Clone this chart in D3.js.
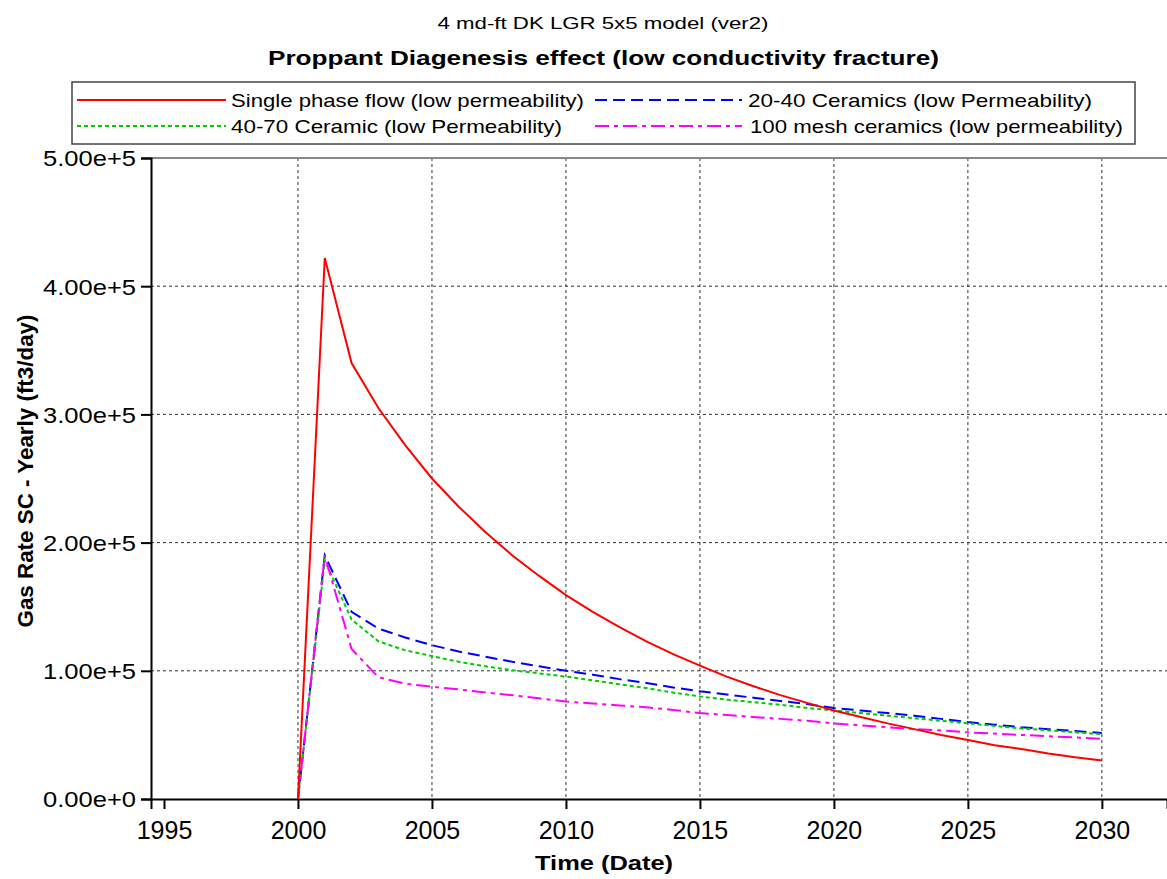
<!DOCTYPE html>
<html>
<head>
<meta charset="utf-8">
<script src="https://cdn.jsdelivr.net/npm/d3@7"></script>
<style>
  html, body { margin: 0; padding: 0; background: #fff; }
  svg { display: block; font-family: "Liberation Sans", Arial, sans-serif; }
</style>
</head>
<body>
<svg id="chart" width="1167" height="879"></svg>
<script>
// ---------------- data ----------------
const years = d3.range(2000, 2031);
const singlePhase = [0, 422000, 340000, 305000, 276000, 250000, 228000, 208000, 190000, 174000,
  159000, 146000, 134000, 123000, 113000, 104000, 95500, 88000, 81000, 75000,
  69000, 64000, 59000, 54500, 50000, 46000, 42000, 39000, 35500, 32500, 30000];
const ceramics2040 = [0, 190000, 146000, 133000, 126000, 120000, 115000, 111000, 107000, 103500,
  100000, 97000, 93500, 90500, 87000, 84000, 81500, 79000, 76500, 74000,
  71000, 69000, 67000, 65000, 62500, 60000, 58000, 56000, 54500, 53000, 51500];
const ceramic4070 = [0, 186000, 140000, 123000, 116000, 111500, 107000, 103500, 100500, 98000,
  95500, 92500, 89500, 86500, 83000, 80000, 77500, 75500, 73500, 71000,
  69000, 67000, 65000, 63000, 61000, 59000, 57000, 55000, 53500, 52000, 50500];
const mesh100 = [0, 190000, 117000, 95000, 90000, 87500, 85500, 83000, 81000, 78500,
  76000, 74500, 73000, 71500, 69500, 67000, 65500, 64000, 62500, 61000,
  59000, 57500, 56000, 54500, 53500, 52000, 51000, 50000, 49000, 48000, 47000];
const seriesNames = ["Single phase flow (low permeability)", "20-40 Ceramics (low Permeability)",
  "40-70 Ceramic (low Permeability)", "100 mesh ceramics (low permeability)"];
const xTicks = [1995, 2000, 2005, 2010, 2015, 2020, 2025, 2030];
const xGrid = [2000, 2005, 2010, 2015, 2020, 2025, 2030];
const yTicks = [0, 100000, 200000, 300000, 400000, 500000];
const yTickLabels = ["0.00e+0", "1.00e+5", "2.00e+5", "3.00e+5", "4.00e+5", "5.00e+5"];
const title1 = "4 md-ft DK LGR 5x5 model (ver2)";
const title2 = "Proppant Diagenesis effect (low conductivity fracture)";
const xLabel = "Time (Date)";
const yLabel = "Gas Rate SC - Yearly (ft3/day)";

// ---------------- layout ----------------
const svg = d3.select("#chart");
const L = 151, R = 1167, T = 158, B = 799;
const x = d3.scaleLinear().domain([1994.515, 2032.43]).range([L, R]);
const y = d3.scaleLinear().domain([0, 500000]).range([B, T]);

const series = [
  {name: seriesNames[0], values: singlePhase, color: "#ff0000", dash: null},
  {name: seriesNames[1], values: ceramics2040, color: "#0000ff", dash: "12,6"},
  {name: seriesNames[2], values: ceramic4070, color: "#00cc00", dash: "4,3"},
  {name: seriesNames[3], values: mesh100, color: "#ff00ff", dash: "14,5,4,5"}
];

// titles
svg.append("text").attr("x", 603).attr("y", 29).attr("text-anchor", "middle")
  .attr("font-size", 17).attr("textLength", 331).attr("lengthAdjust", "spacingAndGlyphs")
  .text(title1);
svg.append("text").attr("x", 603.5).attr("y", 65).attr("text-anchor", "middle")
  .attr("font-size", 21).attr("font-weight", "bold")
  .attr("textLength", 671).attr("lengthAdjust", "spacingAndGlyphs")
  .text(title2);

// grid
const grid = svg.append("g");
grid.selectAll("line.vg").data(xGrid).join("line")
  .attr("x1", d => x(d)).attr("x2", d => x(d)).attr("y1", T).attr("y2", B)
  .attr("stroke", "#333").attr("stroke-width", 1).attr("stroke-dasharray", "3,3");
grid.selectAll("line.hg").data(yTicks.filter(d => d > 0 && d < 500000)).join("line")
  .attr("x1", L).attr("x2", R).attr("y1", d => y(d)).attr("y2", d => y(d))
  .attr("stroke", "#333").attr("stroke-width", 1).attr("stroke-dasharray", "3,3");
// top border
svg.append("line").attr("x1", L).attr("x2", R).attr("y1", y(500000)).attr("y2", y(500000))
  .attr("stroke", "#888").attr("stroke-width", 2);

// axes
const xAxis = d3.axisBottom(x).tickValues(xTicks).tickSize(10).tickPadding(8).tickFormat(d3.format("d"));
const gx = svg.append("g").attr("transform", `translate(0,${B})`).call(xAxis);
gx.select(".domain").attr("stroke", "#000").attr("stroke-width", 2);
gx.selectAll(".tick line").attr("stroke", "#000").attr("stroke-width", 2);
gx.selectAll(".tick text").attr("font-size", 25).attr("fill", "#000")
  .attr("font-family", "Liberation Sans, Arial, sans-serif").attr("dy", 0).attr("y", 40);

const yAxis = d3.axisLeft(y).tickValues(yTicks).tickSize(10).tickPadding(5)
  .tickFormat((d, i) => yTickLabels[i]);
const gy = svg.append("g").attr("transform", `translate(${L},0)`).call(yAxis);
gy.select(".domain").attr("stroke", "#000").attr("stroke-width", 2);
gy.selectAll(".tick line").attr("stroke", "#000").attr("stroke-width", 2);
gy.selectAll(".tick text").attr("font-size", 22).attr("fill", "#000")
  .attr("font-family", "Liberation Sans, Arial, sans-serif")
  .attr("x", -15).attr("dy", "0.36em")
  .attr("textLength", 93).attr("lengthAdjust", "spacingAndGlyphs");

// axis labels
svg.append("text").attr("x", 604).attr("y", 870).attr("text-anchor", "middle")
  .attr("font-size", 20).attr("font-weight", "bold")
  .attr("textLength", 138).attr("lengthAdjust", "spacingAndGlyphs").text(xLabel);
svg.append("text").attr("transform", "translate(33,471) rotate(-90)").attr("text-anchor", "middle")
  .attr("font-size", 22).attr("font-weight", "bold")
  .attr("textLength", 313).attr("lengthAdjust", "spacingAndGlyphs").text(yLabel);

// lines
const line = d3.line().x((d, i) => x(years[i])).y(d => y(d));
const gl = svg.append("g");
[1, 2, 3, 0].forEach(k => {
  const s = series[k];
  gl.append("path").datum(s.values).attr("d", line)
    .attr("fill", "none").attr("stroke", s.color).attr("stroke-width", 2)
    .attr("stroke-dasharray", s.dash);
});

// legend
const lg = svg.append("g");
lg.append("rect").attr("x", 72).attr("y", 82).attr("width", 1063).attr("height", 62)
  .attr("fill", "#fff").attr("stroke", "#444").attr("stroke-width", 1.5);
const legendPos = [
  {lx1: 77, lx2: 226, tx: 231, ty: 100, tl: 353},
  {lx1: 595, lx2: 742, tx: 748, ty: 100, tl: 344},
  {lx1: 77, lx2: 226, tx: 231, ty: 126, tl: 331},
  {lx1: 595, lx2: 742, tx: 750, ty: 126, tl: 373}
];
series.forEach((s, i) => {
  const p = legendPos[i];
  lg.append("line").attr("x1", p.lx1).attr("x2", p.lx2).attr("y1", p.ty).attr("y2", p.ty)
    .attr("stroke", s.color).attr("stroke-width", 2).attr("stroke-dasharray", s.dash);
  lg.append("text").attr("x", p.tx).attr("y", p.ty).attr("dy", "0.35em")
    .attr("font-size", 19).attr("textLength", p.tl).attr("lengthAdjust", "spacingAndGlyphs")
    .text(s.name);
});
</script>
</body>
</html>
